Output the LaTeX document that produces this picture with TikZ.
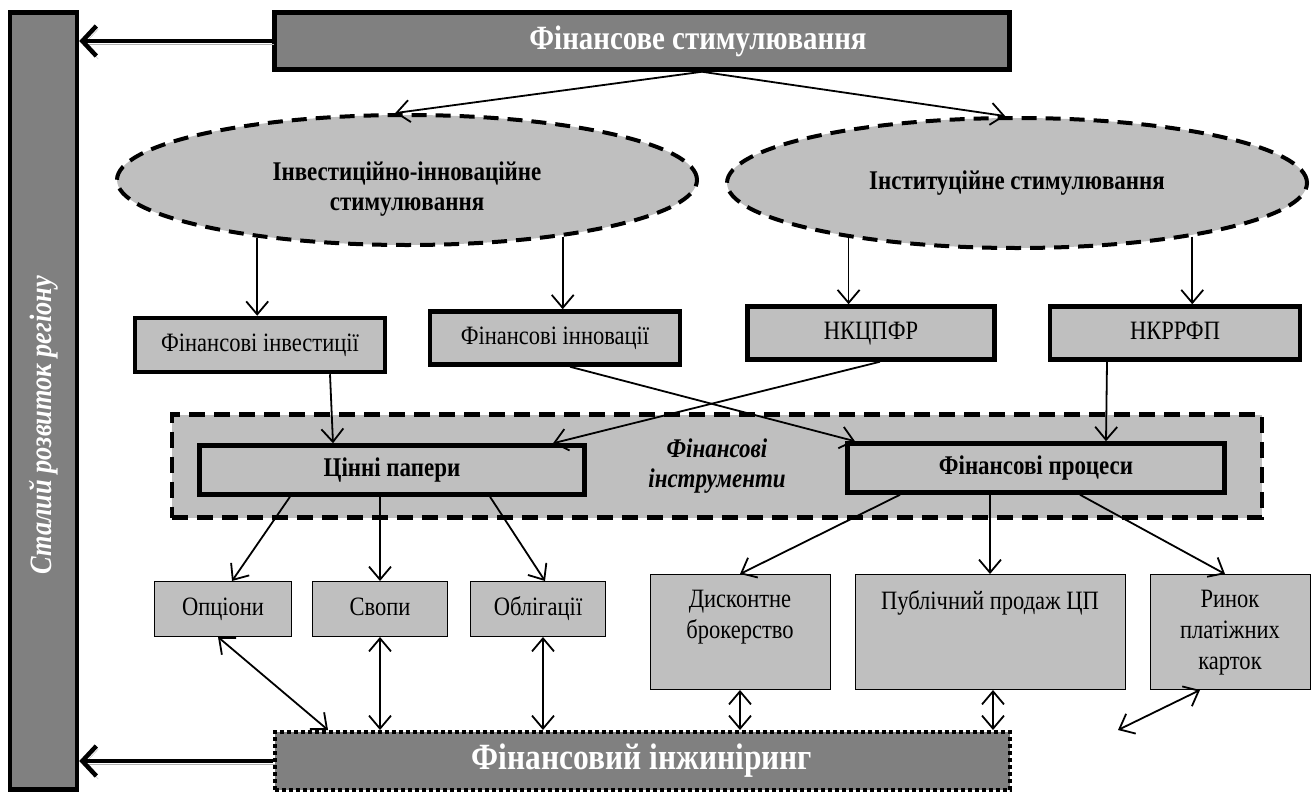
\documentclass[tikz,border=0pt]{standalone}
\usepackage{fontspec}
\setmainfont[FakeStretch=0.85]{Liberation Serif}
\usetikzlibrary{arrows.meta,shapes.geometric}

\begin{document}
\begin{tikzpicture}[x=1pt, y=-1pt,
	darkbar/.style={draw=black, line width=4.5pt, fill=black!50, text=white, inner sep=0pt},
	stimul/.style={ellipse, draw=black, line width=4pt, dash pattern=on 15pt off 9pt, fill=black!25, inner sep=0pt, align=center, font=\fontsize{27}{30}\selectfont\bfseries, minimum width=580pt, minimum height=130pt},
	org/.style={draw=black, line width=4.5pt, fill=black!25, minimum width=250pt, minimum height=53pt, text height=18pt, text depth=6pt, font=\fontsize{26.5}{31}\selectfont},
	instr/.style={draw=black, line width=4.5pt, fill=black!25, minimum height=49pt, text height=18pt, text depth=6pt, font=\fontsize{27}{31}\selectfont\bfseries},
	kind/.style={draw=black, line width=1pt, fill=black!25, minimum height=55pt, text height=18pt, text depth=6pt, font=\fontsize{26.5}{31}\selectfont},
	tallkind/.style={draw=black, line width=1pt, fill=black!25, minimum height=115pt},
	toplbl/.style={anchor=north, yshift=-13pt, align=center, font=\fontsize{26.5}{31}\selectfont},
	arr/.style={line width=1.8pt, -{Straight Barb[length=13pt,width=22pt]}},
	darr/.style={line width=1.8pt, {Straight Barb[length=13pt,width=22pt]}-{Straight Barb[length=13pt,width=22pt]}},
	bigarr/.style={line width=4.5pt, -{Straight Barb[length=14pt,width=30pt]}, preaction={draw=black!30, transform canvas={shift={(2pt,-3pt)}}}}]

	\useasboundingbox (0,0) rectangle (1314,795);

	\node[darkbar, minimum width=67pt, minimum height=777pt, font=\fontsize{31}{36}\selectfont\bfseries\itshape] (bar) at (43.5,401) {\rotatebox{90}{Сталий розвиток регіону\hspace*{48pt}}};
	\node[darkbar, minimum width=735pt, minimum height=57pt, font=\fontsize{34}{38}\selectfont\bfseries] (fs) at (642,41) {\hspace*{112pt}Фінансове стимулювання};

	\node[stimul] (ii) at (407,180) {\rule{0pt}{36pt}Інвестиційно-інноваційне\\стимулювання};
	\node[stimul] (is) at (1017,183) {Інституційне стимулювання};

	\node[org, minimum height=54pt] (fi) at (260,345) {Фінансові інвестиції};
	\node[org] (fn) at (555,338) {Фінансові інновації};
	\node[org, minimum width=247pt] (nkc) at (871,333) {НКЦПФР};
	\node[org] (nkr) at (1175,333) {НКРРФП};

	\node[draw=black, line width=4.5pt, dash pattern=on 16pt off 9pt, fill=black!25, minimum width=1090pt, minimum height=103pt, align=center, font=\fontsize{27}{30}\selectfont\bfseries\itshape] (fin) at (717,466) {Фінансові\\інструменти};
	\node[instr, minimum width=385pt] (cp) at (392,470) {Цінні папери};
	\node[instr, minimum width=377pt] (fp) at (1036,468) {Фінансові процеси};

	\node[kind, minimum width=137pt] (opt) at (223,609) {Опціони};
	\node[kind, minimum width=135pt] (swp) at (380,609) {Свопи};
	\node[kind, minimum width=135pt] (obl) at (538,609) {Облігації};
	\node[tallkind, minimum width=180pt, label={[toplbl]north:Дисконтне\\брокерство}] (disc) at (740,632) {};
	\node[tallkind, minimum width=270pt, label={[toplbl]north:Публічний продаж ЦП}] (pub) at (990,632) {};
	\node[tallkind, minimum width=160pt, label={[toplbl]north:Ринок\\платіжних\\карток}] (rin) at (1230,632) {};

	\node[darkbar, line width=4pt, dash pattern=on 4pt off 3pt, minimum width=735pt, minimum height=58pt, font=\fontsize{37}{40}\selectfont\bfseries] (fe) at (642,761) {Фінансовий інжиніринг};

	\draw[bigarr] (fs.west) -- (fs.west -| bar.east);
	\draw[bigarr] (fe.west) -- (fe.west -| bar.east);

	\draw[arr] ([xshift=60pt]fs.south) -- (ii.100);
	\draw[arr] ([xshift=60pt]fs.south) -- (is.100);

	\draw[arr] (ii.201) -- (ii.201 |- fi.north);
	\draw[arr] (ii.340) -- (ii.340 |- fn.north);
	\draw[arr] (is.198) -- (is.198 |- nkc.north);
	\draw[arr] (is.343) -- (is.343 |- nkr.north);

	\draw[arr] ([xshift=70pt]fi.south) -- ([xshift=-59pt]cp.north);
	\draw[arr] ([xshift=15pt]fn.south) -- ([xshift=-181pt]fp.north);
	\draw[arr] ([xshift=9pt]nkc.south) -- ([xshift=161pt]cp.north);
	\draw[arr] ([xshift=-68pt]nkr.south) -- ([xshift=70pt]fp.north);

	\draw[arr] ([xshift=-102pt]cp.south) -- ([xshift=9pt]opt.north);
	\draw[arr] ([xshift=-12pt]cp.south) -- (swp.north);
	\draw[arr] ([xshift=98pt]cp.south) -- ([xshift=7pt]obl.north);
	\draw[arr] ([xshift=-136pt]fp.south) -- (disc.north);
	\draw[arr] ([xshift=-46pt]fp.south) -- (pub.north);
	\draw[arr] ([xshift=44pt]fp.south) -- ([xshift=-5pt]rin.north);

	\draw[darr] ([xshift=-5pt]opt.south) -- ([xshift=-314pt]fe.north);
	\draw[darr] (swp.south) -- (swp.south |- fe.north);
	\draw[darr] ([xshift=5pt]obl.south) -- ([xshift=5pt]obl.south |- fe.north);
	\draw[darr] (disc.south) -- (disc.south |- fe.north);
	\draw[darr] ([xshift=3pt]pub.south) -- ([xshift=3pt]pub.south |- fe.north);
	\draw[darr] ([xshift=-30pt]rin.south) -- ([xshift=476pt]fe.north);

\end{tikzpicture}
\end{document}
